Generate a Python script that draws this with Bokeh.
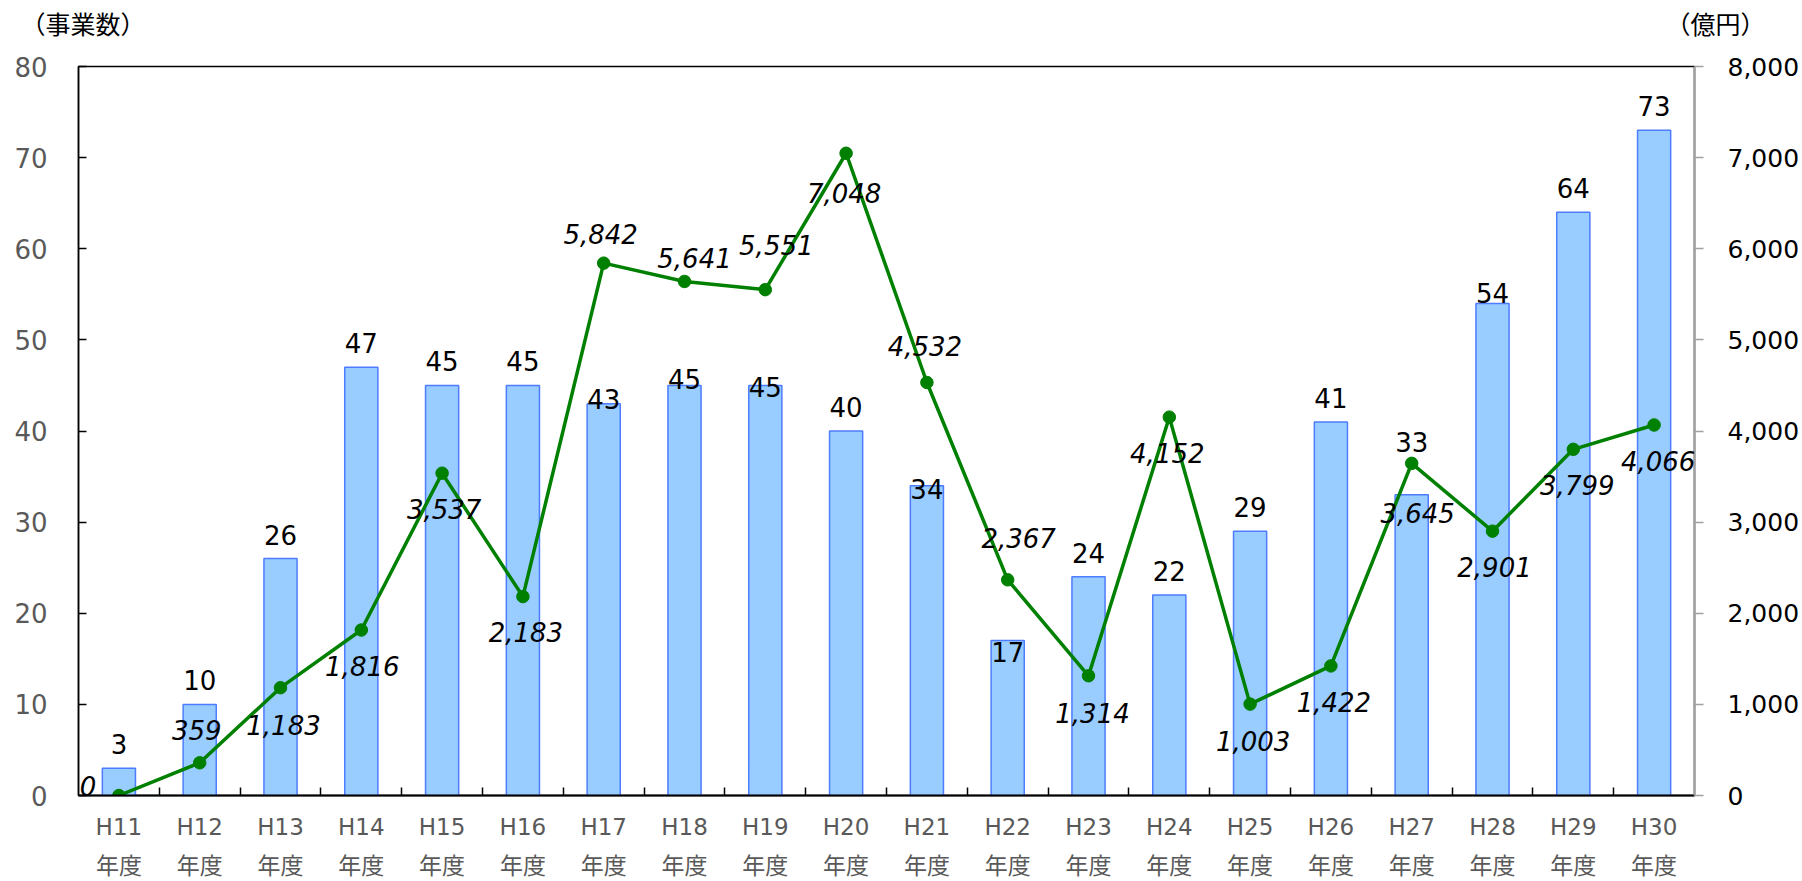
from bokeh.plotting import figure
from bokeh.layouts import column
from bokeh.models import (ColumnDataSource, Range1d, LinearAxis, FixedTicker,
                          NumeralTickFormatter, LabelSet)
from bokeh.core.properties import value
from bokeh.embed import file_html
from bokeh.resources import INLINE

# ---- data ----
categories = ["H11", "H12", "H13", "H14", "H15", "H16", "H17", "H18", "H19", "H20",
              "H21", "H22", "H23", "H24", "H25", "H26", "H27", "H28", "H29", "H30"]
projects = [3, 10, 26, 47, 45, 45, 43, 45, 45, 40, 34, 17, 24, 22, 29, 41, 33, 54, 64, 73]
amounts = [0, 359, 1183, 1816, 3537, 2183, 5842, 5641, 5551, 7048,
           4532, 2367, 1314, 4152, 1003, 1422, 3645, 2901, 3799, 4066]
tick_suffix = "年度"
left_title = "（事業数）"
right_title = "（億円）"

# ---- label placement (screen px; negative = up) ----
bar_label_dy = [-24, -24, -24, -24, -24, -24, -5, -6, 2, -24,
                3, 11, -24, -24, -24, -24, -53, -10, -24, -24]
line_label_dx = [-31, -3, 3, 1, 2, 3, -3, 10, 11, -2,
                 -2, 11, 4, -2, 3, 3, 6, 2, 4, 4]
line_label_dy = [-10, -33, 37, 36, 36, 35, -29, -23, -45, 40,
                 -37, -42, 37, 36, 37, 36, 50, 36, 36, 36]

xs = list(range(len(categories)))
src = ColumnDataSource(dict(
    x=xs, projects=projects, amounts=amounts,
    plab=[str(v) for v in projects],
    alab=[f"{v:,}" for v in amounts],
    bdy=[-d for d in bar_label_dy],
    ldx=line_label_dx,
    ldy=[-d for d in line_label_dy],
))

NUM_FONT = "DejaVu Sans"
CJK_FONT = "Noto Sans CJK JP"

W = 1802
HEAD_H = 40
H = 881 - HEAD_H
ML, MR, MT, MB = 78, 107, 26, 84

# ---- header strip carrying the two axis titles ----
head = figure(width=W, height=HEAD_H, output_backend="svg", toolbar_location=None,
              x_range=Range1d(0, W), y_range=Range1d(0, HEAD_H),
              x_axis_type=None, y_axis_type=None,
              min_border_left=0, min_border_right=0, min_border_top=0,
              min_border_bottom=0)
aligned = True
try:
    head.frame_align = False
    aligned = False
except Exception:
    aligned = True
if aligned:
    # header frame follows the main frame: map page x onto it
    head.x_range = Range1d(ML, W - MR)
head.xgrid.visible = False
head.ygrid.visible = False
head.outline_line_color = None
head.background_fill_color = "white"
head.border_fill_color = "white"
head.text(x=[20, 1665], y=[HEAD_H - 22, HEAD_H - 22], text=[left_title, right_title],
          text_font=value(CJK_FONT), text_font_size="25px",
          text_baseline="middle", text_align="left", text_color="black")

# ---- main chart ----
p = figure(width=W, height=H, output_backend="svg", toolbar_location=None,
           x_range=Range1d(-0.5, len(categories) - 0.5), y_range=Range1d(0, 80),
           min_border_left=ML, min_border_right=MR, min_border_top=MT,
           min_border_bottom=MB)
try:
    p.frame_align = False
except Exception:
    pass
p.extra_y_ranges = {"amt": Range1d(0, 8000)}
p.xgrid.visible = False
p.ygrid.visible = False
p.outline_line_color = "black"
p.outline_line_width = 1.5
p.background_fill_color = "white"
p.border_fill_color = "white"

# bars
p.vbar(x="x", top="projects", width=0.41, bottom=0, source=src,
       fill_color="#99CCFF", line_color="#4D7CFF", line_width=1.5)

# line
p.line(x="x", y="amounts", source=src, y_range_name="amt",
       line_color="#008000", line_width=3.5)
p.scatter(x="x", y="amounts", source=src, y_range_name="amt", size=12.5,
          fill_color="#008000", line_color="#008000")

# bar labels
p.add_layout(LabelSet(x="x", y="projects", text="plab", source=src,
                      y_offset="bdy", text_align="center", text_baseline="middle",
                      text_font=value(NUM_FONT), text_font_size=value("26px"),
                      text_color=value("black")))
# line labels
p.add_layout(LabelSet(x="x", y="amounts", text="alab", source=src, y_range_name="amt",
                      x_offset="ldx", y_offset="ldy", text_align="center",
                      text_baseline="middle", text_font=value(NUM_FONT),
                      text_font_size=value("26px"), text_font_style=value("italic"),
                      text_color=value("black")))

# x axis
xa = p.xaxis[0]
xa.ticker = FixedTicker(ticks=xs, minor_ticks=[i + 0.5 for i in xs[:-1]])
xa.major_label_overrides = {i: f"{c}\n{tick_suffix}" for i, c in enumerate(categories)}
xa.major_tick_line_color = None
xa.major_tick_in = 0
xa.major_tick_out = 0
xa.minor_tick_in = 8
xa.minor_tick_out = 0
xa.minor_tick_line_color = "black"
xa.minor_tick_line_width = 1.5
xa.axis_line_color = "black"
xa.axis_line_width = 2
xa.major_label_text_font = "DejaVu Sans, Noto Sans CJK JP"
xa.major_label_text_font_size = "23px"
xa.major_label_text_color = "#595959"
xa.major_label_text_line_height = 1.5
xa.major_label_standoff = 18

# left axis
ya = p.yaxis[0]
ya.ticker = FixedTicker(ticks=list(range(0, 81, 10)))
ya.major_tick_in = 8
ya.major_tick_out = 0
ya.minor_tick_line_color = None
ya.axis_line_color = "black"
ya.axis_line_width = 1.5
ya.major_tick_line_width = 1.5
ya.major_label_text_font = NUM_FONT
ya.major_label_text_font_size = "26px"
ya.major_label_text_color = "#595959"
ya.major_label_standoff = 31

# right axis
ra = LinearAxis(y_range_name="amt", ticker=FixedTicker(ticks=list(range(0, 8001, 1000))),
                formatter=NumeralTickFormatter(format="0,0"))
ra.major_tick_in = 0
ra.major_tick_out = 9
ra.minor_tick_line_color = None
ra.axis_line_color = "#a0a0a0"
ra.axis_line_width = 2
ra.major_tick_line_color = "#a0a0a0"
ra.major_tick_line_width = 1.5
ra.major_label_text_font = NUM_FONT
ra.major_label_text_font_size = "25px"
ra.major_label_text_color = "black"
ra.major_label_standoff = 24
p.add_layout(ra, "right")

layout = column(head, p, spacing=0)
open("out.html", "w").write(file_html(layout, INLINE))
